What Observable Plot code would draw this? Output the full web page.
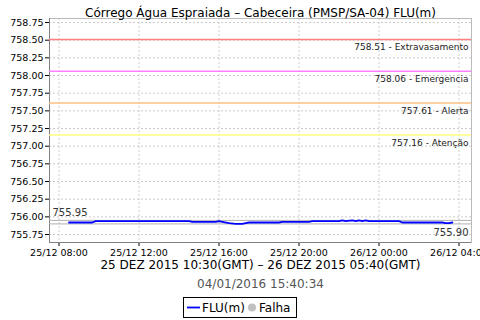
<!DOCTYPE html>
<html>
<head>
<meta charset="utf-8">
<script src="https://cdn.jsdelivr.net/npm/d3@7"></script>
<script src="https://cdn.jsdelivr.net/npm/@observablehq/plot@0.6"></script>
<style>
  html, body { margin: 0; padding: 0; background: #fff; }
  svg { font-family: "DejaVu Sans", sans-serif; }
</style>
</head>
<body>
<div id="chart"></div>
<script>
const titleText = "Córrego Água Espraiada – Cabeceira (PMSP/SA-04) FLU(m)";
const periodText = "25 DEZ 2015 10:30(GMT) – 26 DEZ 2015 05:40(GMT)";
const stampText = "04/01/2016 15:40:34";
const seriesName = "FLU(m)";
const failName = "Falha";

const times = [
  "2015-12-25T08:30","2015-12-25T09:40","2015-12-25T09:50","2015-12-25T14:30","2015-12-25T14:40",
  "2015-12-25T15:40","2015-12-25T15:50","2015-12-25T16:00","2015-12-25T16:10","2015-12-25T16:30",
  "2015-12-25T16:50","2015-12-25T17:10","2015-12-25T17:20","2015-12-25T17:30","2015-12-25T19:00",
  "2015-12-25T19:10","2015-12-25T20:30","2015-12-25T20:40","2015-12-25T22:00","2015-12-25T22:10",
  "2015-12-25T22:20","2015-12-25T22:40","2015-12-25T22:50","2015-12-25T23:00","2015-12-25T23:10",
  "2015-12-25T23:20","2015-12-25T23:30","2015-12-25T23:40","2015-12-26T01:00","2015-12-26T01:10",
  "2015-12-26T03:10","2015-12-26T03:20","2015-12-26T03:30","2015-12-26T03:40"
];
const values = [
  755.92,755.92,755.94,755.94,755.93,
  755.93,755.93,755.94,755.93,755.91,
  755.90,755.90,755.91,755.92,755.92,
  755.93,755.93,755.94,755.94,755.95,
  755.94,755.95,755.94,755.95,755.94,
  755.95,755.94,755.94,755.94,755.92,
  755.92,755.91,755.91,755.92
];

const thresholdValues = [758.51, 758.06, 757.61, 757.16];
const thresholdNames = ["Extravasamento", "Emergencia", "Alerta", "Atenção"];
const thresholdColors = ["#ff8080", "#ff80ff", "#ffc080", "#ffff80"];

const maxValue = 755.95;
const minValue = 755.90;

const yTicks = [755.75,756.00,756.25,756.50,756.75,757.00,757.25,757.50,757.75,758.00,758.25,758.50,758.75];
const xTickLabels = ["2015-12-25T08:00","2015-12-25T12:00","2015-12-25T16:00","2015-12-25T20:00","2015-12-26T00:00","2015-12-26T04:00"];
const xDomainStr = ["2015-12-25T07:31:30", "2015-12-26T04:37:30"];
const yDomain = [755.637, 758.807];

const toDate = s => new Date(s + "Z");
const data = times.map((t, i) => ({t: toDate(t), v: values[i]}));
const thresholds = thresholdValues.map((v, i) => ({v, name: thresholdNames[i], color: thresholdColors[i]}));
const xTicks = xTickLabels.map(toDate);
const xDomain = xDomainStr.map(toDate);
const fmtX = d3.utcFormat("%d/%m %H:%M");

const plot = Plot.plot({
  width: 480,
  height: 320,
  marginTop: 18,
  marginLeft: 49,
  marginRight: 9,
  marginBottom: 78,
  style: {fontFamily: "DejaVu Sans, sans-serif", fontSize: "9.5px", background: "#fff", color: "#000"},
  x: {type: "utc", domain: xDomain, ticks: xTicks, tickFormat: fmtX, tickSize: 4, tickPadding: 3, label: null},
  y: {domain: yDomain, ticks: yTicks, tickFormat: d => d.toFixed(2), tickSize: 4, tickPadding: 2, label: null},
  marks: [
    Plot.ruleY(yTicks, {stroke: "#cccccc", strokeDasharray: "2,2"}),
    Plot.ruleX(xTicks, {stroke: "#cccccc", strokeDasharray: "2,2"}),
    Plot.frame({stroke: "#bbbbbb"}),
    Plot.ruleX([xDomain[0]], {stroke: "#808080"}),
    Plot.ruleY([yDomain[0]], {stroke: "#808080"}),
    ...thresholds.map(t => Plot.ruleY([t.v], {stroke: t.color, strokeWidth: 1.5})),
    Plot.text(thresholds, {y: "v", frameAnchor: "right", dx: -3, dy: 8, text: d => `${d.v.toFixed(2)} - ${d.name}`, textAnchor: "end", fontSize: 9, fill: "#222"}),
    Plot.ruleY([maxValue, minValue], {stroke: "#b0b0b0"}),
    Plot.text([maxValue], {y: d => d, frameAnchor: "left", dx: 3, dy: -8, text: d => d.toFixed(2), textAnchor: "start", fontSize: 10, fill: "#333"}),
    Plot.text([minValue], {y: d => d, frameAnchor: "right", dx: -3, dy: 9, text: d => d.toFixed(2), textAnchor: "end", fontSize: 10, fill: "#333"}),
    Plot.line(data, {x: "t", y: "v", stroke: "#0000ff", strokeWidth: 1.8}),
    Plot.text([titleText], {frameAnchor: "top", dy: -10, fontSize: 12, fill: "#000"}),
    Plot.text([periodText], {frameAnchor: "bottom", dy: 26, fontSize: 12, fill: "#000"}),
    Plot.text([stampText], {frameAnchor: "bottom", dy: 45, fontSize: 12, fill: "#555"})
  ]
});

document.getElementById("chart").appendChild(plot);

// legend box
const svg = d3.select(plot);
const lg = svg.append("g").attr("font-family", "DejaVu Sans, sans-serif").attr("font-size", 12).attr("text-anchor", "start").attr("fill", "#000");
lg.append("rect").attr("x", 183.5).attr("y", 297.5).attr("width", 113).attr("height", 20).attr("fill", "#fff").attr("stroke", "#000");
lg.append("line").attr("x1", 187).attr("x2", 200).attr("y1", 307.5).attr("y2", 307.5).attr("stroke", "#0000ff").attr("stroke-width", 1.8);
lg.append("text").attr("x", 202).attr("y", 312).attr("text-anchor", "start").text(seriesName);
lg.append("circle").attr("cx", 252).attr("cy", 307.5).attr("r", 4).attr("fill", "#c0c0c0");
lg.append("text").attr("x", 259).attr("y", 312).attr("text-anchor", "start").text(failName);
</script>
</body>
</html>
